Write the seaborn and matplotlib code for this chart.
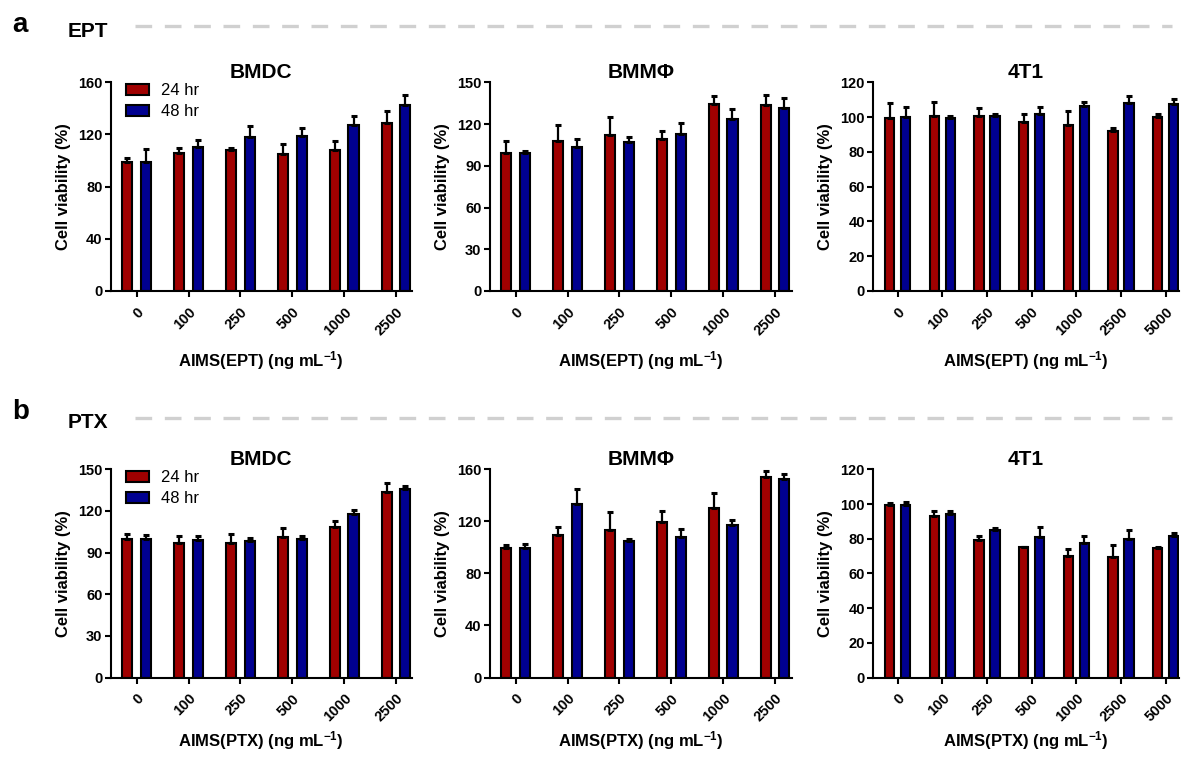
import numpy as np
import pandas as pd
import matplotlib
matplotlib.use('Agg')
import matplotlib.pyplot as plt
from matplotlib.patches import Patch
from matplotlib.lines import Line2D
import seaborn as sns

# concentrations (ng/mL)
conc6 = ['0', '100', '250', '500', '1000', '2500']
conc7 = ['0', '100', '250', '500', '1000', '2500', '5000']

# a: AIMS(EPT)
ept_bmdc_24 = [98.6, 106, 108, 105, 108, 129]
ept_bmdc_24_sd = [3.4, 4, 2, 7.7, 6.7, 9]
ept_bmdc_48 = [99, 110.7, 117.8, 118.6, 127, 142.5]
ept_bmdc_48_sd = [9.6, 5.1, 8.7, 6.4, 7.4, 7.5]

ept_bmm_24 = [99.2, 108, 112, 109.5, 134.4, 133.5]
ept_bmm_24_sd = [8.4, 11.6, 13, 5.3, 5.6, 7.5]
ept_bmm_48 = [99.2, 103.8, 107, 113, 123.6, 131.8]
ept_bmm_48_sd = [1.4, 5.2, 3.5, 8, 7.4, 7.2]

ept_4t1_24 = [99.3, 100.6, 100.6, 97.2, 95.5, 92, 100]
ept_4t1_24_sd = [8.7, 8.3, 4.8, 4.8, 7.8, 2, 2]
ept_4t1_48 = [99.9, 99.3, 100.6, 102, 106.4, 108, 107.3]
ept_4t1_48_sd = [6.1, 1.1, 1, 3.6, 2.5, 4, 2.9]

# b: AIMS(PTX)
ptx_bmdc_24 = [99.5, 97.1, 97, 101, 108.7, 133.4]
ptx_bmdc_24_sd = [3.9, 5.1, 6.1, 6.7, 4.3, 6.8]
ptx_bmdc_48 = [99.5, 98.8, 98, 99.5, 117.8, 136]
ptx_bmdc_48_sd = [2.9, 2.9, 2.5, 2.7, 2.9, 2]

ptx_bmm_24 = [99.2, 109.2, 113.6, 119.7, 130.3, 154.1]
ptx_bmm_24_sd = [2.3, 6.7, 13.8, 8.5, 11.7, 4.4]
ptx_bmm_48 = [99.2, 133.3, 104.9, 108.2, 116.9, 152.8]
ptx_bmm_48_sd = [3.1, 11.7, 1.5, 5.9, 3.9, 3.9]

ptx_4t1_24 = [99.7, 93, 79.2, 75.1, 70.3, 69.2, 74.6]
ptx_4t1_24_sd = [0.9, 2.8, 2.6, 0.4, 3.7, 6.9, 0.9]
ptx_4t1_48 = [99.7, 94.5, 85.1, 80.9, 77.8, 79.7, 81.7]
ptx_4t1_48_sd = [1.3, 1.3, 1.2, 5.7, 3.5, 5.6, 1.5]

RED = '#a00000'
BLUE = '#000090'

sns.set_style('ticks')
plt.rcParams['font.family'] = ['Liberation Sans', 'DejaVu Sans']
plt.rcParams['mathtext.fontset'] = 'custom'
plt.rcParams['mathtext.rm'] = 'Liberation Sans:bold'
plt.rcParams['mathtext.bf'] = 'Liberation Sans:bold'
plt.rcParams['mathtext.default'] = 'bf'
for key in ['text.color', 'axes.labelcolor', 'xtick.color', 'ytick.color', 'axes.edgecolor']:
    plt.rcParams[key] = 'black'

W, H = 1184, 758
fig = plt.figure(figsize=(11.84, 7.58), dpi=100)

col_left = [110.8, 489.8, 873.1]
col_width = [300.8, 301.8, 306.0]
row_bottom = [291.0, 677.5]
row_height = [208.7, 208.2]
xlabel_y = [-0.331, -0.305]


def make_ax(r, c):
    return fig.add_axes([col_left[c] / W, 1 - row_bottom[r] / H,
                         col_width[c] / W, row_height[r] / H])


def draw_panel(ax, row, conc, v24, e24, v48, e48, title, xlabel, yticks, xlim, gap, legend):
    n = len(conc)
    df = pd.DataFrame({'conc': conc * 2,
                       'time': ['24 hr'] * n + ['48 hr'] * n,
                       'value': v24 + v48})
    sns.barplot(data=df, x='conc', y='value', hue='time', palette=[RED, BLUE],
                saturation=1, edgecolor='black', linewidth=1.5, width=0.72,
                gap=gap, errorbar=None, legend=False, ax=ax)
    for cont, err in zip(ax.containers, [e24, e48]):
        xs = [p.get_x() + p.get_width() / 2 for p in cont]
        ys = [p.get_height() for p in cont]
        ax.errorbar(xs, ys, yerr=[np.zeros(n), err], fmt='none', ecolor='black',
                    elinewidth=1.6, capsize=2.2, capthick=2.2, clip_on=False, zorder=3)
    ax.set_ylim(0, yticks[-1])
    ax.set_yticks(yticks)
    ax.set_xlim(*xlim)
    sns.despine(ax=ax)
    for s in ['left', 'bottom']:
        ax.spines[s].set_linewidth(1.5)
    ax.tick_params(axis='both', direction='out', length=4, width=1.5)
    ax.tick_params(axis='y', labelsize=10.5, pad=2)
    ax.tick_params(axis='x', labelsize=10.5, pad=6)
    for lab in ax.get_yticklabels():
        lab.set_fontweight('bold')
    for lab in ax.get_xticklabels():
        lab.set_fontweight('bold')
        lab.set_rotation(45)
        lab.set_ha('right')
        lab.set_va('top')
        lab.set_rotation_mode('anchor')
    ax.set_title(title, fontsize=15, fontweight='bold', pad=0)
    ax.set_ylabel('Cell viability (%)', fontsize=12, fontweight='bold', labelpad=5)
    ax.set_xlabel(xlabel, fontsize=12, fontweight='bold', va='center')
    ax.xaxis.set_label_coords(0.5, xlabel_y[row])
    if legend:
        handles = [Patch(facecolor=RED, edgecolor='black', linewidth=1.5, label='24 hr'),
                   Patch(facecolor=BLUE, edgecolor='black', linewidth=1.5, label='48 hr')]
        ax.legend(handles=handles, loc='upper left', bbox_to_anchor=(0.05, 0.995),
                  frameon=False, fontsize=12, handlelength=1.4, handleheight=0.6,
                  handletextpad=0.7, labelspacing=0.35, borderpad=0, borderaxespad=0)


xlim6 = (-0.5, 5.3)
xlim6b = (-0.5, 5.32)
xlim7 = (-0.55, 6.3)

ax = make_ax(0, 0)
draw_panel(ax, 0, conc6, ept_bmdc_24, ept_bmdc_24_sd, ept_bmdc_48, ept_bmdc_48_sd,
           'BMDC', 'AIMS(EPT) (ng mL$^{-1}$)', [0, 40, 80, 120, 160], xlim6, 0.46, True)
ax = make_ax(0, 1)
draw_panel(ax, 0, conc6, ept_bmm_24, ept_bmm_24_sd, ept_bmm_48, ept_bmm_48_sd,
           'BMMΦ', 'AIMS(EPT) (ng mL$^{-1}$)', [0, 30, 60, 90, 120, 150], xlim6b, 0.46, False)
ax = make_ax(0, 2)
draw_panel(ax, 0, conc7, ept_4t1_24, ept_4t1_24_sd, ept_4t1_48, ept_4t1_48_sd,
           '4T1', 'AIMS(EPT) (ng mL$^{-1}$)', [0, 20, 40, 60, 80, 100, 120], xlim7, 0.42, False)

ax = make_ax(1, 0)
draw_panel(ax, 1, conc6, ptx_bmdc_24, ptx_bmdc_24_sd, ptx_bmdc_48, ptx_bmdc_48_sd,
           'BMDC', 'AIMS(PTX) (ng mL$^{-1}$)', [0, 30, 60, 90, 120, 150], xlim6, 0.46, True)
ax = make_ax(1, 1)
draw_panel(ax, 1, conc6, ptx_bmm_24, ptx_bmm_24_sd, ptx_bmm_48, ptx_bmm_48_sd,
           'BMMΦ', 'AIMS(PTX) (ng mL$^{-1}$)', [0, 40, 80, 120, 160], xlim6b, 0.46, False)
ax = make_ax(1, 2)
draw_panel(ax, 1, conc7, ptx_4t1_24, ptx_4t1_24_sd, ptx_4t1_48, ptx_4t1_48_sd,
           '4T1', 'AIMS(PTX) (ng mL$^{-1}$)', [0, 20, 40, 60, 80, 100, 120], xlim7, 0.42, False)

# section headers
for letter, name, y_let, y_name, y_line in [('a', 'EPT', 32.3, 36.7, 25.7),
                                            ('b', 'PTX', 419.3, 428.3, 418.3)]:
    fig.text(12 / W, 1 - y_let / H, letter, fontsize=20, fontweight='bold', va='baseline')
    fig.text(68 / W, 1 - y_name / H, name, fontsize=15, fontweight='bold', va='baseline')
    fig.add_artist(Line2D([135 / W, 1172 / W], [1 - y_line / H, 1 - y_line / H],
                          color='#d0d0d0', linewidth=2.4, linestyle=(0, (5, 3.8))))

fig.savefig('out.png', dpi=100)
